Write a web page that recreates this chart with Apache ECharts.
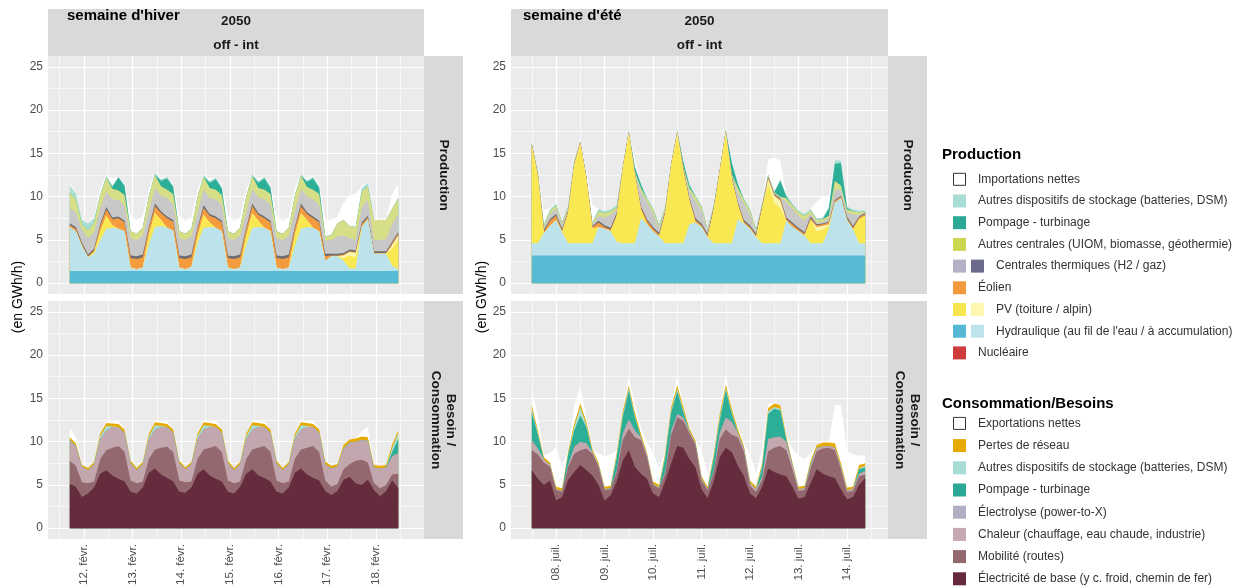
<!DOCTYPE html>
<html><head><meta charset="utf-8">
<script src="https://cdn.jsdelivr.net/npm/echarts@6/dist/echarts.min.js"></script>
<style>html,body{margin:0;padding:0;background:#fff;}#chart{width:1247px;height:587px;}</style>
</head><body><div id="chart"></div>
<script>
// ---------- axis / label data ----------
const WINTER_DAY_LABELS = ['12. févr.','13. févr.','14. févr.','15. févr.','16. févr.','17. févr.','18. févr.'];
const SUMMER_DAY_LABELS = ['08. juil.','09. juil.','10. juil.','11. juil.','12. juil.','13. juil.','14. juil.'];
const DAY_TICKS = [0,24,48,72,96,120,144];
const NOON_LINES = [-12,12,36,60,84,108,132,156];
const Y_TICKS = [0,5,10,15,20,25];
const Y_MINOR = [2.5,7.5,12.5,17.5,22.5];

// ---------- winter week (hours from 12 Feb 00:00) ----------
const W_HOURS = [-7,-4,-1,2,5,8,11,14,17,20,23,26,29,32,35,38,41,44,47,50,53,56,59,62,65,68,71,74,77,80,83,86,89,92,95,98,101,104,107,110,113,116,119,122,125,128,131,134,137,140,143,146,149,152,155];
// production (GWh/h)
const W_ROR  = [1.4,1.4,1.4, 1.4,1.4,1.4,1.4,1.4,1.4,1.4,1.4, 1.4,1.4,1.4,1.4,1.4,1.4,1.4,1.4, 1.4,1.4,1.4,1.4,1.4,1.4,1.4,1.4, 1.4,1.4,1.4,1.4,1.4,1.4,1.4,1.4, 1.4,1.4,1.4,1.4,1.4,1.4,1.4,1.4, 1.4,1.4,1.4,1.4,1.4,1.4,1.4,1.4, 1.4,1.4,1.4,1.4];
const W_ACC  = [5.1,4.6,2.9, 1.6,2.0,3.6,4.9,5.0,4.9,4.6,0.4, 0.2,0.4,3.1,5.1,5.2,5.0,4.7,0.4, 0.2,0.5,3.2,5.0,5.1,5.0,4.6,0.4, 0.2,0.4,3.0,5.0,5.1,5.0,4.6,0.4, 0.2,0.4,2.9,4.9,5.1,5.0,4.6,1.2, 1.7,1.7,1.2,0.3,0.3,5.1,6.0,2.0, 2.0,2.0,0.6,0.2];
const W_PV   = [0,0,0, 0,0.2,1.0,1.5,0.3,0,0,0, 0,0,1.1,1.6,0.7,0,0,0, 0,0,0.8,1.5,0.5,0,0,0, 0,0,1.1,1.6,0.7,0,0,0, 0,0,1.3,1.7,0.8,0,0,0, 0,0,0.3,1.5,1.3,0,0,0, 0,0,2.0,3.4];
const W_PVA  = [0,0,0, 0,0,0,0,0,0,0,0, 0,0,0,0,0,0,0,0, 0,0,0,0,0,0,0,0, 0,0,0,0.1,0,0,0,0, 0,0,0,0.1,0,0,0,0, 0,0,0.3,0.4,0.5,0,0,0, 0,0,0.4,0.5];
const W_WIND = [0.2,0.3,0.2, 0.1,0.2,0.6,0.7,0.7,1.2,1.0,1.1, 1.2,1.2,0.7,0.8,0.8,1.1,1.0,1.1, 1.2,1.1,0.8,0.8,0.8,1.1,1.0,1.1, 1.2,1.2,0.7,0.8,0.7,1.1,1.0,1.1, 1.2,1.2,0.7,0.8,0.7,1.1,1.0,0.5, 0.1,0.1,0.1,0.1,0.1,0.3,0.2,0.1, 0.1,0.1,0.2,0.2];
const W_THD  = [0.2,0.2,0.2, 0.2,0.2,0.2,0.3,0.2,0.2,0.2,0.3, 0.3,0.3,0.2,0.3,0.2,0.2,0.2,0.3, 0.3,0.3,0.2,0.3,0.2,0.2,0.2,0.3, 0.3,0.3,0.2,0.3,0.2,0.2,0.2,0.3, 0.3,0.3,0.2,0.3,0.2,0.2,0.2,0.3, 0.2,0.2,0.2,0.2,0.2,0.2,0.2,0.2, 0.2,0.2,0.2,0.2];
const W_THL  = [1.8,1.7,1.5, 1.9,1.9,1.8,1.8,2.1,1.9,1.8,2.0, 1.9,2.2,1.8,1.8,1.8,2.1,1.8,2.0, 1.9,2.1,1.8,1.8,1.8,2.0,1.8,2.0, 1.9,2.2,1.8,1.7,1.8,2.0,1.8,2.0, 1.9,2.2,1.8,1.7,1.8,2.0,1.8,1.5, 1.6,2.0,2.0,1.3,1.2,1.8,1.8,1.3, 1.3,1.4,2.0,2.1];
const W_OTH  = [1.8,1.5,0.6, 0.9,1.1,1.6,1.6,1.2,1.1,1.2,0.8, 0.7,0.9,1.8,1.5,1.1,1.0,1.2,0.8, 0.7,0.9,1.8,1.5,1.2,1.1,1.2,0.8, 0.7,0.9,1.8,1.5,1.1,1.1,1.3,0.8, 0.7,0.9,1.8,1.5,1.1,1.1,1.3,0.5, 0.6,1.5,1.8,1.4,1.5,1.8,1.6,2.3, 2.3,2.2,1.8,1.8];
const W_PUMP = [0,0,0, 0,0,0,0,0.2,1.5,1.0,0, 0,0,0,0,0.6,1.3,0.8,0, 0,0,0,0,0.6,1.2,0.7,0, 0,0,0,0,0.6,1.3,0.7,0, 0,0,0,0,0.6,1.3,0.7,0, 0,0,0,0,0,0,0,0, 0,0,0,0];
const W_STO  = [0.8,0.7,0.5, 0.8,0.5,0,0.2,0.2,0.1,0.2,0, 0,0,0,0.2,0.2,0.2,0.2,0, 0,0,0,0.2,0.2,0.2,0.2,0, 0,0,0,0.2,0.2,0.2,0.2,0, 0,0,0,0.2,0.2,0.2,0.2,0, 0,0,0,0,0,0.4,0.4,0, 0,0,0,0];
const W_IMP  = [0.2,0.1,0, 0.05,0.2,0.7,0.1,0.8,0,0.2,1.8, 1.6,1.3,0.8,0,0.2,0,0.2,1.8, 1.5,1.3,0.8,0,0.3,0,0.3,1.8, 1.5,1.2,0.8,0,0.3,0,0.2,1.8, 1.5,1.2,0.8,0,0.2,0.1,0.3,1.9, 1.7,0.8,2.0,3.6,3.8,0.2,0.1,0, 0,0.1,1.7,1.7];
// consumption (GWh/h)
const WC_BASE = [5.1,4.8,3.6, 4.0,4.7,6.3,6.7,6.1,5.7,5.4,4.2, 4.0,4.7,6.4,6.9,6.2,5.8,5.4,4.2, 4.1,4.7,6.3,6.8,6.1,5.7,5.4,4.2, 4.0,4.8,6.3,6.8,6.1,5.8,5.4,4.2, 4.0,4.7,6.4,6.9,6.2,5.8,5.5,4.3, 3.8,4.3,5.6,5.9,5.2,5.0,5.6,4.4, 3.7,4.3,5.5,4.6];
const WC_MOB  = [2.7,2.4,1.7, 1.2,0.7,1.7,2.3,3.2,3.8,3.4,1.3, 1.2,0.7,1.6,2.2,3.1,3.6,3.4,1.3, 1.2,0.7,1.7,2.3,3.2,3.8,3.4,1.3, 1.2,0.6,1.7,2.3,3.2,3.7,3.4,1.3, 1.2,0.7,1.6,2.2,3.1,3.7,3.3,1.2, 1.0,0.8,1.2,1.5,2.6,2.9,2.0,0.8, 0.9,0.7,0.7,1.7];
const WC_HEAT = [2.4,2.3,1.8, 1.5,2.0,2.3,2.3,2.4,2.2,2.2,2.0, 1.5,2.0,2.3,2.3,2.4,2.3,2.2,2.0, 1.5,2.0,2.3,2.3,2.4,2.2,2.2,2.0, 1.5,2.0,2.3,2.3,2.4,2.2,2.2,2.0, 1.5,2.0,2.3,2.3,2.4,2.2,2.2,1.9, 2.1,2.0,2.4,2.5,2.2,2.3,2.5,1.8, 2.3,2.0,2.1,2.4];
const WC_PUMP = [0,0,0, 0,0,0,0,0,0,0,0, 0,0,0,0,0,0,0,0, 0,0,0,0,0,0,0,0, 0,0,0,0,0,0,0,0, 0,0,0,0,0,0,0,0, 0,0,0,0,0,0,0,0, 0,0,0.5,1.6];
const WC_STO  = [0,0,0, 0,0,0.3,0.5,0.05,0,0,0, 0,0,0.3,0.5,0.1,0,0,0, 0,0,0.3,0.5,0.1,0,0,0, 0,0,0.3,0.5,0.1,0,0,0, 0,0,0.3,0.5,0.1,0,0,0, 0,0,0,0,0,0,0,0, 0,0,0.5,0.7];
const WC_LOSS = [0.3,0.3,0.2, 0.25,0.25,0.3,0.35,0.35,0.35,0.4,0.3, 0.25,0.25,0.3,0.35,0.35,0.35,0.4,0.3, 0.25,0.25,0.3,0.35,0.35,0.35,0.4,0.3, 0.25,0.25,0.3,0.35,0.35,0.35,0.4,0.3, 0.25,0.25,0.3,0.35,0.35,0.35,0.4,0.3, 0.3,0.3,0.4,0.35,0.35,0.4,0.4,0.3, 0.3,0.3,0.4,0.3];
const WC_EXP  = [1.1,0.7,0, 0,0,0,0.15,0.2,0.35,0,0, 0,0,0,0.15,0.2,0.3,0,0, 0,0,0,0.15,0.2,0.35,0,0, 0,0,0,0.15,0.2,0.3,0,0, 0,0,0,0.15,0.2,0.35,0,0, 0,0,0,0,0,0.6,1.2,0, 0,0,0,0];

// ---------- summer week (hours from 08 Jul 00:00) ----------
const S_HOURS = [-12,-9,-6,-3,0,3,6,9,12,15,18,21,24,27,30,33,36,39,42,45,48,51,54,57,60,63,66,69,72,75,78,81,84,87,90,93,96,99,102,105,108,111,114,117,120,123,126,129,132,135,138,141,144,147,150,153];
const S_ROR  = [3.2,3.2,3.2,3.2, 3.2,3.2,3.2,3.2,3.2,3.2,3.2,3.2, 3.2,3.2,3.2,3.2,3.2,3.2,3.2,3.2, 3.2,3.2,3.2,3.2,3.2,3.2,3.2,3.2, 3.2,3.2,3.2,3.2,3.2,3.2,3.2,3.2, 3.2,3.2,3.2,3.2,3.2,3.2,3.2,3.2, 3.2,3.2,3.2,3.2,3.2,3.2,3.2,3.2, 3.2,3.2,3.2,3.2];
const S_ACC  = [1.4,1.4,2.6,3.4, 4.1,2.7,1.4,1.4,1.4,1.4,1.4,3.3, 3.1,2.8,1.6,1.4,1.4,1.4,4.3,3.6, 2.8,2.2,1.4,1.4,1.4,1.4,3.6,3.8, 3.3,2.1,1.4,1.4,1.4,1.4,4.2,3.7, 3.1,2.1,1.4,1.4,1.4,1.4,4.0,3.3, 2.8,2.3,1.4,1.4,1.4,3.1,6.1,6.6, 4.1,3.0,1.4,1.4];
const S_PV   = [11.2,7.7,0,0, 0,0,3.5,9.0,11.4,7.4,1.7,0, 0,0,2.9,8.5,12.6,7.9,1.0,0, 0,0,3.4,9.0,12.4,8.4,2.7,0, 0,0,3.8,8.2,12.5,7.4,1.6,0, 0,0,4.0,6.9,4.7,4.1,0,0, 0,0,2.7,1.4,1.6,0.3,0,0, 0,0,2.8,3.2];
const S_PVA  = [0.2,0,0,0, 0,0,0,0,0.2,0,0,0, 0,0,0,0,0.2,0,0,0, 0,0,0,0,0.4,0,0,0, 0,0,0,0,0.4,0,0,0, 0,0,0,0.5,0.8,0.8,0,0, 0,0,0,0.5,0.4,0.2,0,0, 0,0,0,0];
const S_WIND = [0.1,0.2,0.2,0.6, 0.5,0.2,0.2,0.2,0.1,0.2,0.2,0.5, 0.2,0.2,0.2,0.2,0.1,0.2,0.2,0.4, 0.3,0.2,0.2,0.2,0.1,0.2,0.2,0.3, 0.2,0.2,0.2,0.2,0.1,0.2,0.2,0.2, 0.2,0.2,0.2,0.2,0.1,0.2,0.2,0.3, 0.2,0.2,0.2,0.2,0.2,0.2,0.2,0.2, 0.2,0.2,0.2,0.2];
const S_THD  = [0,0,0.2,0.2, 0.2,0.2,0.1,0,0,0,0.1,0.2, 0.2,0.2,0.2,0,0,0,0.2,0.2, 0.2,0.2,0.1,0,0,0.1,0.1,0.2, 0.2,0.2,0.1,0,0,0.1,0.1,0.2, 0.2,0.2,0.1,0.1,0.1,0.1,0.2,0.2, 0.2,0.2,0.2,0.1,0.1,0.1,0.1,0.1, 0.2,0.2,0.1,0.1];
const S_THL  = [0,0.1,0.2,0.6, 0.6,0.5,0.2,0.1,0,0,0.1,0.6, 0.9,1.5,0.4,0.1,0,0.1,1.7,2.0, 1.6,0.6,0.2,0,0,0.1,0.8,2.0, 1.5,0.3,0.1,0,0,0.1,1.2,1.9, 1.3,0.3,0.1,0.1,0.1,0.1,1.8,1.6, 1.4,1.3,0.3,0.2,0.2,0.4,1.2,0.7, 0.5,1.3,0.2,0.1];
const S_OTH  = [0,0.1,0.2,0.3, 0.4,0.2,0.2,0.1,0,0.1,0.2,0.5, 0.5,0.4,0.3,0,0,0.1,0.4,0.3, 0.4,0.3,0.2,0,0,0.1,0.4,0.5, 0.4,0.2,0.1,0,0,0.2,0.5,0.4, 0.4,0.2,0.1,0.1,0.1,0.1,0.4,0.4, 0.4,0.6,0.4,0.3,0.3,0.3,1.0,0.5, 0.3,0.4,0.3,0.1];
const S_PUMP = [0,0,0,0, 0,0,0,0,0,0,0,0, 0,0,0,0,0,0.5,0.4,0, 0,0,0,0,0,0.5,0.3,0, 0,0,0,0,0,1.3,0.4,0, 0,0,0,0,0,1.8,0.2,0, 0,0,0,0,0,0.8,2.0,2.6, 0.2,0,0,0];
const S_STO  = [0.1,0.2,0.3,0.2, 0.2,0.1,0.2,0.1,0.1,0.1,0.1,0.3, 0.2,0.2,0.2,0.1,0.1,0.1,0.2,0.2, 0.2,0.2,0.1,0.2,0.2,0.1,0.2,0.2, 0.2,0.1,0.1,0.2,0.2,0.1,0.2,0.2, 0.2,0.1,0.1,0.1,0.1,0.2,0.2,0.2, 0.2,0.2,0.2,0.2,0.2,0.2,0.4,0.3, 0.2,0.2,0.2,0.1];
const S_IMP  = [0,0,1.5,0.2, 0.1,0.1,0,0,0,0.4,2.1,0, 0,0,0,0,0,0.8,0,0, 0,0,0,0,0,0,0,0, 0,0,0,0,0,0,0,0, 0,0,0,1.7,3.9,2.2,0,0, 0,0,0,1.9,2.4,1.2,0,0, 0,0,0,0];
const SC_BASE = [6.7,5.7,5.0,5.5, 3.2,3.6,5.6,6.5,7.3,6.7,6.1,5.0, 3.2,3.8,5.4,7.8,9.0,7.1,6.3,5.7, 4.0,3.6,5.4,7.5,9.5,9.3,8.0,7.0, 4.5,3.5,5.4,8.2,9.3,8.8,7.2,6.0, 4.0,3.5,4.8,6.9,6.5,6.2,6.0,4.8, 3.4,3.6,5.2,6.8,6.3,6.0,5.8,4.5, 3.3,3.6,5.0,5.8];
const SC_MOB  = [2.3,2.8,2.6,1.6, 1.2,0.6,1.5,2.1,1.7,2.5,2.5,2.1, 1.2,0.7,1.1,2.4,2.5,3.4,3.9,2.5, 1.0,1.0,0.9,3.3,3.3,3.1,3.0,2.6, 1.0,0.9,1.0,2.1,2.1,2.0,3.3,2.8, 0.9,0.7,0.8,2.0,2.8,3.3,3.0,2.0, 0.9,0.8,1.7,2.1,2.9,3.3,3.2,2.3, 0.9,0.7,1.0,0.4];
const SC_HEAT = [1.2,0.7,0.3,0.2, 0.1,0.1,0.2,0.8,1.0,0.6,0.2,0.2, 0.1,0.1,0.2,0.7,1.1,0.8,0.3,0.2, 0.1,0.1,0.2,0.5,0.4,0.4,0.2,0.2, 0.2,0.1,0.2,0.7,1.4,1.5,0.5,0.4, 0.3,0.3,0.3,1.4,1.2,1.1,1.0,0.5, 0.2,0.2,0.3,0.4,0.2,0.2,0.3,0.3, 0.2,0.2,0.3,0.4];
const SC_PUMP = [3.2,1.6,0,0, 0,0,1.2,1.9,3.0,1.9,0,0, 0,0,1.4,1.9,3.3,1.5,0,0, 0,0,1.6,2.1,2.6,0.6,0,0, 0,0,1.4,1.4,3.1,0.9,0,0, 0,0,1.1,2.9,3.3,3.0,0.2,0, 0,0,0.2,0,0,0,0,0, 0,0,0.5,0.4];
const SC_STO  = [0.4,0.2,0,0, 0,0,0.1,0.4,1.0,0.2,0,0, 0,0,0.3,0.3,0.3,0.2,0,0, 0,0,0.3,0.2,0.3,0.2,0,0, 0,0,0.3,0.4,0.3,0.2,0,0, 0,0,0.2,0.3,0.2,0.2,0,0, 0,0,0.1,0,0,0,0,0, 0,0,0.1,0.2];
const SC_LOSS = [0.4,0.3,0.3,0.3, 0.3,0.3,0.3,0.4,0.4,0.4,0.3,0.3, 0.3,0.3,0.3,0.4,0.3,0.4,0.4,0.3, 0.3,0.3,0.3,0.4,0.4,0.4,0.3,0.3, 0.3,0.3,0.3,0.4,0.4,0.4,0.4,0.3, 0.3,0.3,0.3,0.4,0.4,0.4,0.3,0.3, 0.3,0.3,0.3,0.3,0.5,0.4,0.5,0.4, 0.3,0.3,0.4,0.3];
const SC_EXP  = [1.9,1.6,0.2,1.1, 4.5,2.6,0.1,2.0,2.0,0.5,0,1.0, 3.5,3.6,0.3,0,1.0,0.9,0.7,1.2, 3.3,1.9,0.1,0,1.2,0.1,0,0.1, 3.0,1.5,0.4,0,1.2,0.2,0.2,0.3, 3.1,1.5,1.7,0.4,0.1,0,0,1.6, 3.6,3.1,0.8,0,0.1,0.1,4.4,6.7, 4.2,3.7,1.1,0.9];

// ---------- legend ----------
const PROD_LEGEND_LABELS = ['Importations nettes','Autres dispositifs de stockage (batteries, DSM)','Pompage - turbinage','Autres centrales (UIOM, biomasse, géothermie)','Centrales thermiques (H2 / gaz)','Éolien','PV (toiture / alpin)',"Hydraulique (au fil de l'eau / à accumulation)",'Nucléaire'];
const PROD_LEGEND_COLORS = [['#FFFFFF'],['#A8DDD5'],['#2BA995'],['#CCD64F'],['#B2B1C5','#6B6A8B'],['#F39A3F'],['#F8E650','#FEF7B0'],['#55B9D5','#BDE3EC'],['#D03B3B']];
const CONS_LEGEND_LABELS = ['Exportations nettes','Pertes de réseau','Autres dispositifs de stockage (batteries, DSM)','Pompage - turbinage','Électrolyse (power-to-X)','Chaleur (chauffage, eau chaude, industrie)','Mobilité (routes)','Électricité de base (y c. froid, chemin de fer)'];
const CONS_LEGEND_COLORS = [['#FFFFFF'],['#E6AA03'],['#A8DDD5'],['#2BA995'],['#B0AFC4'],['#C7A9B1'],['#93686F'],['#652A3C']];

// ---------- styling ----------
const FONT = '"Liberation Sans", Arial, sans-serif';
const LFONT = '"Liberation Sans", Arial, sans-serif';
const COL = {ror:'#57BBD6',acc:'#BCE3EC',pv:'#F9E852',pva:'#FEF6B0',wind:'#F39B3E',thD:'#6D6C72',thL:'#C8C8C8',oth:'#D6DE88',pump:'#2DAE97',sto:'#A9DED4',imp:'#FFFFFF',base:'#652C3E',mob:'#94686F',heat:'#C3A7AE',loss:'#E6AA00',exp:'#FFFFFF'};

const prodW = [[W_ROR,COL.ror],[W_ACC,COL.acc],[W_PV,COL.pv],[W_PVA,COL.pva],[W_WIND,COL.wind],[W_THD,COL.thD],[W_THL,COL.thL],[W_OTH,COL.oth],[W_PUMP,COL.pump],[W_STO,COL.sto],[W_IMP,COL.imp]];
const consW = [[WC_BASE,COL.base],[WC_MOB,COL.mob],[WC_HEAT,COL.heat],[WC_PUMP,COL.pump],[WC_STO,COL.sto],[WC_LOSS,COL.loss],[WC_EXP,COL.exp]];
const prodS = [[S_ROR,COL.ror],[S_ACC,COL.acc],[S_PV,COL.pv],[S_PVA,COL.pva],[S_WIND,COL.wind],[S_THD,COL.thD],[S_THL,COL.thL],[S_OTH,COL.oth],[S_PUMP,COL.pump],[S_STO,COL.sto],[S_IMP,COL.imp]];
const consS = [[SC_BASE,COL.base],[SC_MOB,COL.mob],[SC_HEAT,COL.heat],[SC_PUMP,COL.pump],[SC_STO,COL.sto],[SC_LOSS,COL.loss],[SC_EXP,COL.exp]];

function panelSeries(hours, layers, g) {
  const run = hours.map(() => 0);
  const tops = layers.map(L => L[0].map((v, i) => { run[i] = +(run[i] + v).toFixed(3); return run[i]; }));
  const out = [];
  for (let k = layers.length - 1; k >= 0; k--) {
    out.push({type:'line', xAxisIndex:g, yAxisIndex:g, data: hours.map((h, i) => [h, tops[k][i]]),
      symbol:'none', showSymbol:false, lineStyle:{width:0, opacity:0}, areaStyle:{color:layers[k][1], opacity:1},
      silent:true, animation:false, z:2});
  }
  return out;
}
function gridLines(g) {
  const d = [];
  DAY_TICKS.forEach(v => d.push({xAxis:v, lineStyle:{width:1.2}}));
  NOON_LINES.forEach(v => d.push({xAxis:v, lineStyle:{width:0.6}}));
  Y_TICKS.forEach(v => d.push({yAxis:v, lineStyle:{width:1.2}}));
  Y_MINOR.forEach(v => d.push({yAxis:v, lineStyle:{width:0.6}}));
  return {type:'line', xAxisIndex:g, yAxisIndex:g, data:[], z:1, silent:true,
    markLine:{silent:true, z:1, animation:false, symbol:['none','none'], label:{show:false},
      lineStyle:{color:'#FFFFFF', type:'solid'}, emphasis:{disabled:true}, data:d}};
}
function xAx(g, min, max, labels, show) {
  return {type:'value', gridIndex:g, min, max, axisLine:{show:false}, splitLine:{show:false},
    axisTick:{show, customValues:DAY_TICKS, length:4, lineStyle:{color:'#333333', width:1}},
    axisLabel:{show, customValues:DAY_TICKS, rotate:90, margin:5, color:'#4D4D4D', fontSize:11.5, fontFamily:FONT,
      formatter: v => labels[Math.round(v / 24)]}};
}
function yAx(g) {
  return {type:'value', gridIndex:g, min:-1.25, max:26.25, axisLine:{show:false}, splitLine:{show:false},
    axisTick:{show:true, customValues:Y_TICKS, length:4, lineStyle:{color:'#333333', width:1}},
    axisLabel:{customValues:Y_TICKS, color:'#4D4D4D', fontSize:12, margin:5, fontFamily:FONT}};
}
const grids = [
  {left:48, top:56, width:376, height:238},
  {left:48, top:301, width:376, height:238},
  {left:511, top:56, width:377, height:238},
  {left:511, top:301, width:377, height:238}
].map(g => Object.assign(g, {show:true, backgroundColor:'#EBEBEB', borderWidth:0, outerBoundsMode:'none', containLabel:false}));

// ---------- graphic (strips, titles, legend) ----------
const G = [];
function rect(x, y, w, h, fill, stroke) { G.push({type:'rect', z:5, silent:true, shape:{x, y, width:w, height:h}, style:{fill, stroke: stroke || null, lineWidth: stroke ? 1 : 0}}); }
function txt(x, y, text, font, fill, align, rot, lh) {
  G.push({type:'text', z:6, silent:true, x, y, rotation: rot || 0,
    style:{text, font, fill, align: align || 'left', verticalAlign:'middle', textAlign: align || 'left', textVerticalAlign:'middle', lineHeight: lh || undefined}});
}
rect(48, 9, 376, 47, '#D9D9D9'); rect(511, 9, 377, 47, '#D9D9D9');
rect(424, 56, 39, 238, '#D9D9D9'); rect(424, 301, 39, 238, '#D9D9D9');
rect(888, 56, 39, 238, '#D9D9D9'); rect(888, 301, 39, 238, '#D9D9D9');
const SB = 'bold 13.5px ' + FONT;
txt(236, 21.5, '2050', SB, '#1A1A1A', 'center'); txt(236, 45, 'off - int', SB, '#1A1A1A', 'center');
txt(699.5, 21.5, '2050', SB, '#1A1A1A', 'center'); txt(699.5, 45, 'off - int', SB, '#1A1A1A', 'center');
txt(67, 16, "semaine d'hiver", 'bold 15px ' + FONT, '#000000', 'left');
txt(523, 16, "semaine d'été", 'bold 15px ' + FONT, '#000000', 'left');
txt(443.5, 175, 'Production', SB, '#1A1A1A', 'center', -Math.PI / 2);
txt(443.5, 420, 'Besoin /\nConsommation', SB, '#1A1A1A', 'center', -Math.PI / 2, 15);
txt(907.5, 175, 'Production', SB, '#1A1A1A', 'center', -Math.PI / 2);
txt(907.5, 420, 'Besoin /\nConsommation', SB, '#1A1A1A', 'center', -Math.PI / 2, 15);
txt(18, 297, '(en GWh/h)', '14px ' + FONT, '#000000', 'center', Math.PI / 2);
txt(482, 297, '(en GWh/h)', '14px ' + FONT, '#000000', 'center', Math.PI / 2);
function legend(title, titleY, labels, colors, y0, step) {
  txt(942, titleY, title, 'bold 15px ' + LFONT, '#000000', 'left');
  labels.forEach((lab, i) => {
    const y = y0 + i * step;
    const cs = colors[i];
    cs.forEach((c, j) => {
      if (c === '#FFFFFF') rect(953.5, y - 6, 12, 12, '#FFFFFF', '#333333');
      else rect(953 + j * 18, y - 6.5, 13, 13, c);
    });
    txt(cs.length > 1 ? 996 : 978, y, lab, '12px ' + LFONT, '#333333', 'left');
  });
}
legend('Production', 155, PROD_LEGEND_LABELS, PROD_LEGEND_COLORS, 179.3, 21.7);
legend('Consommation/Besoins', 404, CONS_LEGEND_LABELS, CONS_LEGEND_COLORS, 423.4, 22.2);

const series = [].concat(
  [gridLines(0), gridLines(1), gridLines(2), gridLines(3)],
  panelSeries(W_HOURS, prodW, 0), panelSeries(W_HOURS, consW, 1),
  panelSeries(S_HOURS, prodS, 2), panelSeries(S_HOURS, consS, 3)
);

const chart = echarts.init(document.getElementById('chart'), null, {renderer:'canvas'});
chart.setOption({
  animation:false,
  backgroundColor:'#FFFFFF',
  textStyle:{fontFamily:FONT},
  grid: grids,
  xAxis: [xAx(0, -17.75, 167.7, WINTER_DAY_LABELS, false), xAx(1, -17.75, 167.7, WINTER_DAY_LABELS, true),
          xAx(2, -22.3, 164.3, SUMMER_DAY_LABELS, false), xAx(3, -22.3, 164.3, SUMMER_DAY_LABELS, true)],
  yAxis: [yAx(0), yAx(1), yAx(2), yAx(3)],
  series,
  graphic: {elements: G}
});
</script>
</body></html>
